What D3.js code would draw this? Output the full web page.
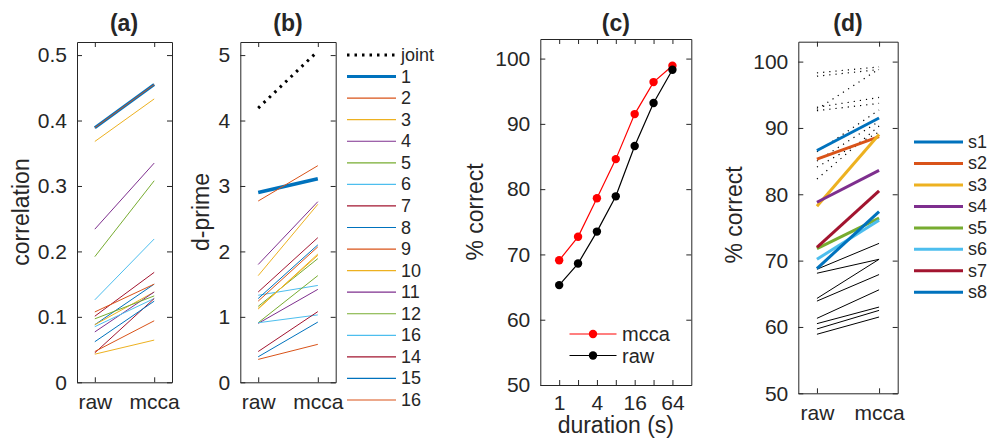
<!DOCTYPE html>
<html><head><meta charset="utf-8">
<script src="https://cdn.jsdelivr.net/npm/d3@7"></script>
<style>body{margin:0;background:#fff} text{font-family:"Liberation Sans",Arial,Helvetica,sans-serif;fill:#262626}</style>
</head><body><svg id="c" width="988" height="444"></svg>
<script>
// ---------- data ----------
const conds = ["raw", "mcca"];
const matlabColors = ["#0072BD","#D95319","#EDB120","#7E2F8E","#77AC30","#4DBEEE","#A2142F"];
// (a) correlation
const corrMean = [0.389, 0.455];
const corrRaw  = [0.389,0.368,0.234,0.192,0.126,0.101,0.088,0.1075,0.088,0.077,0.097,0.085,0.045,0.062,0.047,0.043];
const corrMcca = [0.455,0.433,0.335,0.308,0.219,0.168,0.150,0.150,0.138,0.138,0.132,0.128,0.128,0.124,0.094,0.0645];
const corrTicks = [0,0.1,0.2,0.3,0.4,0.5];
// (b) d-prime
const dpJoint = [4.19, 5.06];
const dpMean  = [2.90, 3.11];
const dpRaw  = [2.77,1.63,1.80,1.16,1.33,1.38,1.28,1.24,1.13,0.90,0.91,0.91,0.47,0.39,0.35,1.12];
const dpMcca = [3.31,2.72,2.76,1.89,1.48,2.21,2.10,2.07,1.94,1.42,1.63,1.03,1.08,0.92,0.58,1.96];
const dpTicks = [0,1,2,3,4,5];
const dpLegend = ["joint","1","2","3","4","5","6","7","8","9","10","11","12","16","14","15","16"];
// (c) % correct vs duration
const durations = [1,2,4,8,16,32,64];
const durLabels = ["1","","4","","16","","64"];
const mccaPct = [69.1,72.7,78.6,84.6,91.5,96.4,98.9];
const rawPct  = [65.3,68.6,73.5,78.9,86.6,93.2,98.3];
const pctTicks = [50,60,70,80,90,100];
// (d) per subject
const subjects = ["s1","s2","s3","s4","s5","s6","s7","s8"];
const subjRaw  = [86.6,85.3,78.2,78.8,71.8,70.2,72.0,68.8];
const subjMcca = [91.5,88.7,89.0,83.6,76.4,76.1,80.5,77.4];
const blackRaw  = [68.7,68.1,64.3,63.9,61.3,60.5,59.7,58.9];
const blackMcca = [72.6,70.2,70.2,67.9,65.6,63.0,62.5,61.5];
const dotRaw  = [98.3,97.8,92.8,93.1,92.6,86.4,85.0,84.1,82.3];
const dotMcca = [99.2,98.8,98.9,94.6,93.7,92.7,91.0,89.4,90.3];

// ---------- helpers ----------
const svg = d3.select("#c");
const AX = "#262626", TF = 21, LF = 23;
function box(g, x, y, xt, xl, yt, yl, opts={}) {
  const [x0,x1] = x.range(), [y1,y0] = y.range();
  const tl = 5;
  g.append("g").attr("transform",`translate(${x0},0)`)
    .call(d3.axisLeft(y).tickValues(yt).tickFormat((d,i)=>yl[i]).tickSizeInner(-tl).tickSizeOuter(0).tickPadding(10));
  g.append("g").attr("transform",`translate(${x1},0)`)
    .call(d3.axisRight(y).tickValues(yt).tickFormat("").tickSizeInner(-tl).tickSizeOuter(0));
  g.append("g").attr("transform",`translate(0,${y1})`)
    .call(d3.axisBottom(x).tickValues(xt).tickFormat((d,i)=>xl[i]).tickSizeInner(-tl).tickSizeOuter(0).tickPadding(opts.xpad||12));
  g.append("g").attr("transform",`translate(0,${y0})`)
    .call(d3.axisTop(x).tickValues(xt).tickFormat("").tickSizeInner(-tl).tickSizeOuter(0));
  g.selectAll(".domain").attr("stroke",AX);
  g.selectAll(".tick line").attr("stroke",AX);
  g.selectAll(".tick text").attr("font-size",TF).attr("fill",AX).style("font-family",'"Liberation Sans",Arial,sans-serif');
}
function title(txt, cx, by) {
  svg.append("text").attr("x",cx).attr("y",by).attr("text-anchor","middle")
    .attr("font-size",LF).attr("font-weight","bold").text(txt);
}
function ylabel(txt, cx, cy) {
  svg.append("text").attr("transform",`translate(${cx},${cy}) rotate(-90)`)
    .attr("text-anchor","middle").attr("dominant-baseline","central").attr("font-size",LF).text(txt);
}
function seg(g, x, y, a, b, color, w, dash) {
  g.append("line").attr("x1",x(1)).attr("x2",x(2)).attr("y1",y(a)).attr("y2",y(b))
    .attr("stroke",color).attr("stroke-width",w).attr("stroke-dasharray",dash||null);
}

// ---------- (a) ----------
{
  const x = d3.scaleLinear().domain([0.7,2.3]).range([77,172]);
  const y = d3.scaleLinear().domain([0,0.52]).range([382.3,42]);
  const g = svg.append("g");
  const lines = svg.append("g");
  seg(lines,x,y,corrMean[0],corrMean[1],matlabColors[0],3);
  corrRaw.forEach((r,i)=>seg(lines,x,y,r,corrMcca[i],matlabColors[(i+1)%7],1));
  box(g,x,y,[1,2],conds,corrTicks,corrTicks.map(d=>d===0?"0":d3.format(".1f")(d)));
  title("(a)",124,31);
  ylabel("correlation",21,212);
}
// ---------- (b) ----------
{
  const x = d3.scaleLinear().domain([0.7,2.3]).range([240.3,335.7]);
  const y = d3.scaleLinear().domain([0,5.2]).range([382.3,42]);
  const g = svg.append("g");
  const lines = svg.append("g");
  seg(lines,x,y,dpJoint[0],dpJoint[1],"#000",3,"2.5,5");
  seg(lines,x,y,dpMean[0],dpMean[1],matlabColors[0],3.5);
  dpRaw.forEach((r,i)=>seg(lines,x,y,r,dpMcca[i],matlabColors[(i+1)%7],1));
  box(g,x,y,[1,2],conds,dpTicks,dpTicks.map(String));
  title("(b)",288,31);
  ylabel("d-prime",201,212);
  // legend
  const ly = d3.scalePoint().domain(dpLegend.map((d,i)=>i)).range([55,400]);
  const lg = svg.append("g");
  dpLegend.forEach((lab,i)=>{
    const yy = ly(i);
    const col = i===0 ? "#000" : (i===1 ? matlabColors[0] : matlabColors[(i-1)%7]);
    lg.append("line").attr("x1",347).attr("x2",396).attr("y1",yy).attr("y2",yy)
      .attr("stroke",col).attr("stroke-width",i<=1?3:1.2).attr("stroke-dasharray",i===0?"2.5,5":null);
    lg.append("text").attr("x",401).attr("y",yy).attr("dominant-baseline","central").attr("font-size",18).text(lab);
  });
}
// ---------- (c) ----------
{
  const x = d3.scaleLog().base(2).domain([0.5,128]).range([540.3,691.3]);
  const y = d3.scaleLinear().domain([50,103]).range([385,39]);
  const g = svg.append("g");
  box(g,x,y,durations,durLabels,pctTicks,pctTicks.map(String),{xpad:10});
  const line = d3.line().x((d,i)=>x(durations[i])).y(d=>y(d));
  const series = [{v:mccaPct,c:"#FF0000"},{v:rawPct,c:"#000"}];
  series.forEach(s=>{
    svg.append("path").attr("d",line(s.v)).attr("fill","none").attr("stroke",s.c).attr("stroke-width",1.2);
    svg.selectAll(null).data(s.v).enter().append("circle")
      .attr("cx",(d,i)=>x(durations[i])).attr("cy",d=>y(d)).attr("r",4.2).attr("fill",s.c);
  });
  const leg = [{t:"mcca",c:"#FF0000",y:334},{t:"raw",c:"#000",y:355.5}];
  leg.forEach(l=>{
    svg.append("line").attr("x1",569.5).attr("x2",616.5).attr("y1",l.y).attr("y2",l.y).attr("stroke",l.c).attr("stroke-width",1.2);
    svg.append("circle").attr("cx",593).attr("cy",l.y).attr("r",4.2).attr("fill",l.c);
    svg.append("text").attr("x",622).attr("y",l.y).attr("dominant-baseline","central").attr("font-size",20).text(l.t);
  });
  title("(c)",615.8,31);
  ylabel("% correct",475,212);
  svg.append("text").attr("x",615.8).attr("y",433).attr("text-anchor","middle").attr("font-size",LF).text("duration (s)");
}
// ---------- (d) ----------
{
  const x = d3.scaleLinear().domain([0.7,2.3]).range([798.3,897.7]);
  const y = d3.scaleLinear().domain([50,103]).range([393.3,41.7]);
  const g = svg.append("g");
  const lines = svg.append("g");
  dotRaw.forEach((r,i)=>seg(lines,x,y,r,dotMcca[i],"#000",1.2,"1.2,5"));
  blackRaw.forEach((r,i)=>seg(lines,x,y,r,blackMcca[i],"#000",1));
  subjRaw.forEach((r,i)=>seg(lines,x,y,r,subjMcca[i],matlabColors[i%7],3));
  box(g,x,y,[1,2],conds,pctTicks,pctTicks.map(String));
  title("(d)",848,31);
  ylabel("% correct",734,215);
  const ly = d3.scalePoint().domain(subjects).range([142,292.3]);
  subjects.forEach((s,i)=>{
    svg.append("line").attr("x1",914).attr("x2",963).attr("y1",ly(s)).attr("y2",ly(s))
      .attr("stroke",matlabColors[i%7]).attr("stroke-width",3);
    svg.append("text").attr("x",968).attr("y",ly(s)).attr("dominant-baseline","central").attr("font-size",18).text(s);
  });
}
</script></body></html>
